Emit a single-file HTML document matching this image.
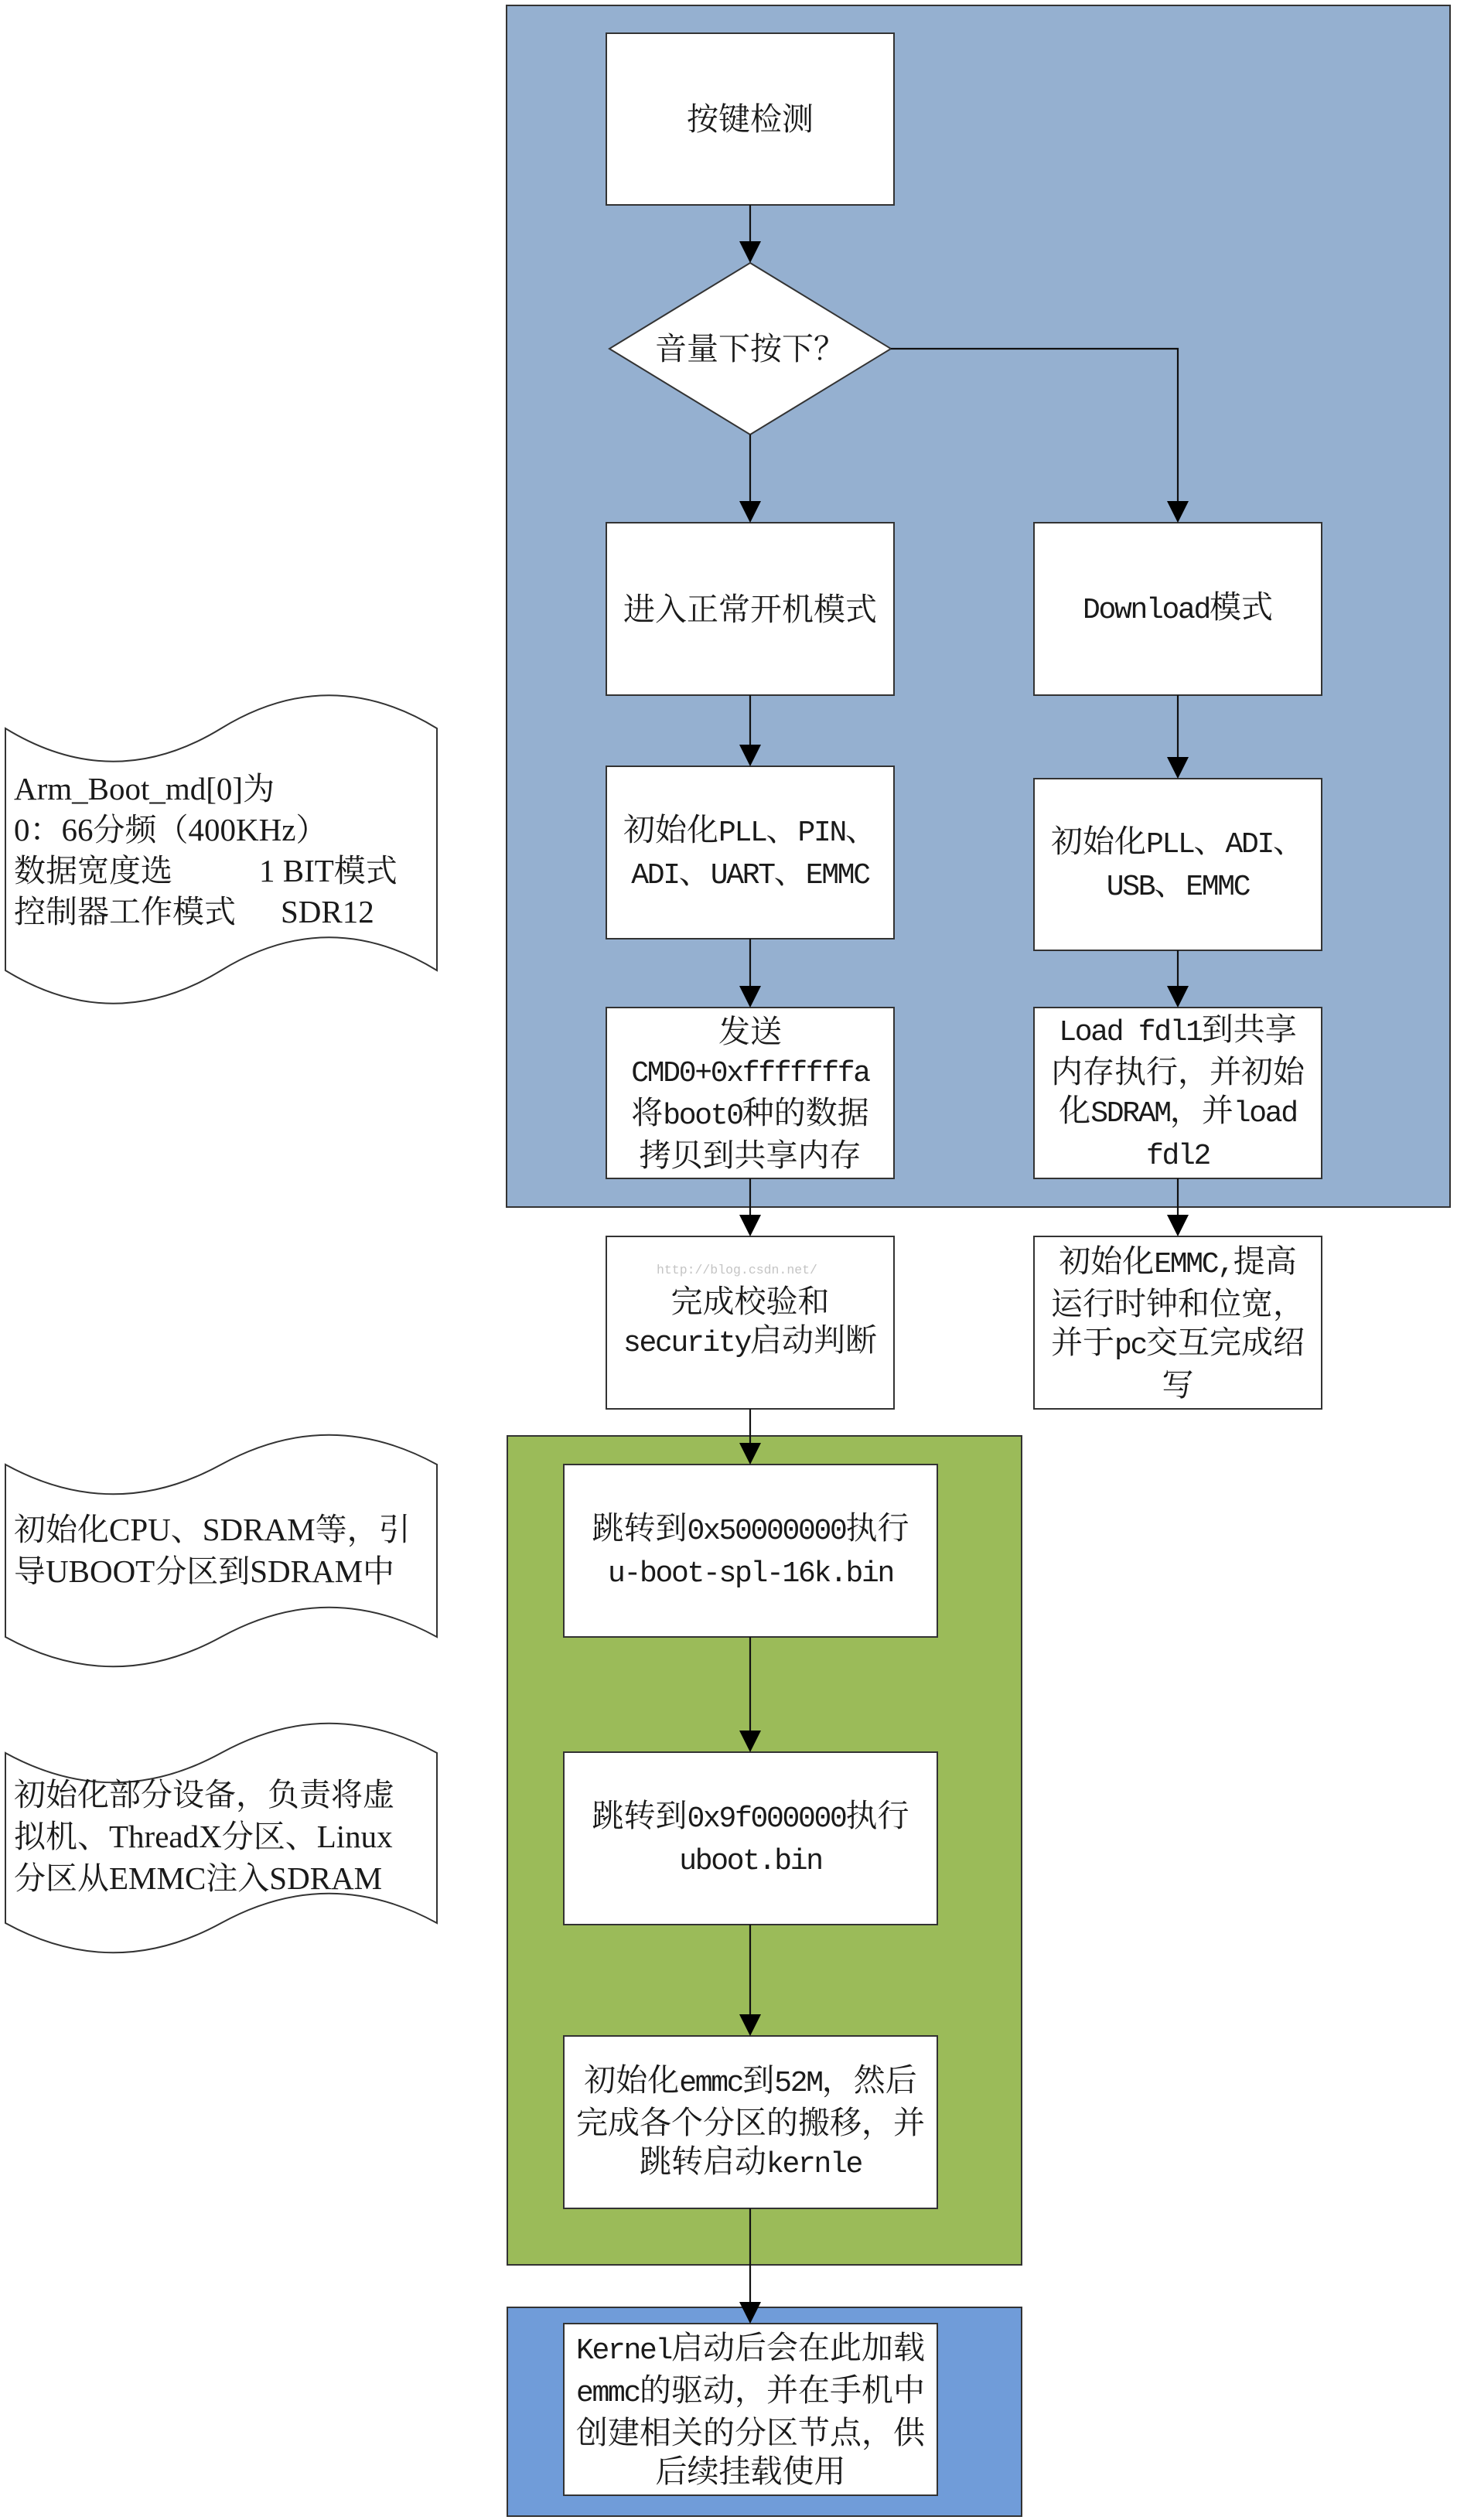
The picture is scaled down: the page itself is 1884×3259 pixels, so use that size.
<!DOCTYPE html>
<html>
<head>
<meta charset="utf-8">
<style>
  html, body { margin:0; padding:0; background:#fff; }
  #page { position:relative; width:1884px; height:3259px; overflow:hidden; background:#fff; }
  svg { position:absolute; left:0; top:0; }
  .t { position:absolute; display:flex; align-items:center; justify-content:center; text-align:center;
       font-family:"Liberation Serif","Noto Serif CJK SC",serif; font-size:41px; line-height:50px;
       color:#1a1a1a; white-space:nowrap; }
  .l { font-family:"Liberation Mono",monospace; font-size:38px; letter-spacing:-2.3px; }
  .n { position:absolute; font-family:"Liberation Serif","Noto Serif CJK SC",serif; font-size:41px;
       line-height:54px; height:54px; color:#1a1a1a; white-space:nowrap; }
  .wm { position:absolute; left:849px; top:1632px; font-family:"Liberation Mono",monospace; font-size:16.5px;
        color:#c4c4c4; white-space:nowrap; line-height:22px; }
</style>
</head>
<body>
<div id="page">
<svg width="1884" height="3259" viewBox="0 0 1884 3259" xmlns="http://www.w3.org/2000/svg">
  <rect x="655" y="7" width="1220" height="1554" fill="#95b0d0" stroke="#333" stroke-width="2"/>
  <rect x="656" y="1857" width="665" height="1072" fill="#9bbb59" stroke="#333" stroke-width="2"/>
  <rect x="656" y="2984" width="665" height="270" fill="#709cd9" stroke="#333" stroke-width="2"/>

  <g fill="#fff" stroke="#333" stroke-width="2">
    <path d="M7,942 C100,999 193,999 286,942 C379,885 472,885 565,942 L565,1255 C472,1198 379,1198 286,1255 C193,1312 100,1312 7,1255 Z"/>
    <path d="M7,1894 C100,1945 193,1945 286,1894 C379,1843 472,1843 565,1894 L565,2117 C472,2066 379,2066 286,2117 C193,2168 100,2168 7,2117 Z"/>
    <path d="M7,2267 C100,2318 193,2318 286,2267 C379,2216 472,2216 565,2267 L565,2487 C472,2436 379,2436 286,2487 C193,2538 100,2538 7,2487 Z"/>
  </g>

  <g fill="#fff" stroke="#333" stroke-width="2">
    <rect x="784" y="43" width="372" height="222"/>
    <polygon points="970,340 1152,451 970,562 788,451"/>
    <rect x="784" y="676" width="372" height="223"/>
    <rect x="1337" y="676" width="372" height="223"/>
    <rect x="784" y="991" width="372" height="223"/>
    <rect x="1337" y="1007" width="372" height="222"/>
    <rect x="784" y="1303" width="372" height="221"/>
    <rect x="1337" y="1303" width="372" height="221"/>
    <rect x="784" y="1599" width="372" height="223"/>
    <rect x="1337" y="1599" width="372" height="223"/>
    <rect x="729" y="1894" width="483" height="223"/>
    <rect x="729" y="2266" width="483" height="223"/>
    <rect x="729" y="2633" width="483" height="223"/>
    <rect x="729" y="3005" width="483" height="222"/>
  </g>

  <g stroke="#111" stroke-width="2.2" fill="none">
    <line x1="970" y1="265" x2="970" y2="314"/>
    <line x1="970" y1="562" x2="970" y2="650"/>
    <polyline points="1152,451 1523,451 1523,650"/>
    <line x1="970" y1="899" x2="970" y2="965"/>
    <line x1="1523" y1="899" x2="1523" y2="981"/>
    <line x1="970" y1="1214" x2="970" y2="1277"/>
    <line x1="1523" y1="1229" x2="1523" y2="1277"/>
    <line x1="970" y1="1524" x2="970" y2="1573"/>
    <line x1="1523" y1="1524" x2="1523" y2="1573"/>
    <line x1="970" y1="1822" x2="970" y2="1868"/>
    <line x1="970" y1="2117" x2="970" y2="2240"/>
    <line x1="970" y1="2489" x2="970" y2="2607"/>
    <line x1="970" y1="2856" x2="970" y2="2979"/>
  </g>
  <g fill="#000">
    <polygon points="956,312 984,312 970,340"/>
    <polygon points="956,648 984,648 970,676"/>
    <polygon points="1509,648 1537,648 1523,676"/>
    <polygon points="956,963 984,963 970,991"/>
    <polygon points="1509,979 1537,979 1523,1007"/>
    <polygon points="956,1275 984,1275 970,1303"/>
    <polygon points="1509,1275 1537,1275 1523,1303"/>
    <polygon points="956,1571 984,1571 970,1599"/>
    <polygon points="1509,1571 1537,1571 1523,1599"/>
    <polygon points="956,1866 984,1866 970,1894"/>
    <polygon points="956,2238 984,2238 970,2266"/>
    <polygon points="956,2605 984,2605 970,2633"/>
    <polygon points="956,2977 984,2977 970,3005"/>
  </g>
</svg>

<div class="t" style="left:784px;top:43px;width:372px;height:222px;">按键检测</div>
<div class="t" style="left:788px;top:340px;width:364px;height:222px;">音量下按下？</div>
<div class="t" style="left:784px;top:676px;width:372px;height:223px;">进入正常开机模式</div>
<div class="t" style="left:1337px;top:676px;width:372px;height:223px;"><span><span class="l">Download</span>模式</span></div>
<div class="t" style="left:784px;top:991px;width:372px;height:223px;"><div>初始化<span class="l">PLL</span>、<span class="l">PIN</span>、<br><span class="l">ADI</span>、<span class="l">UART</span>、<span class="l">EMMC</span></div></div>
<div class="t" style="left:1337px;top:1007px;width:372px;height:222px;"><div>初始化<span class="l">PLL</span>、<span class="l">ADI</span>、<br><span class="l">USB</span>、<span class="l">EMMC</span></div></div>
<div class="t" style="left:784px;top:1303px;width:372px;height:221px;"><div>发送<br><span class="l">CMD0+0xfffffffa</span><br>将<span class="l">boot0</span>种的数据<br>拷贝到共享内存</div></div>
<div class="t" style="left:1337px;top:1303px;width:372px;height:221px;"><div><span class="l">Load fdl1</span>到共享<br>内存执行，并初始<br>化<span class="l">SDRAM</span>，并<span class="l">load</span><br><span class="l">fdl2</span></div></div>
<div class="t" style="left:784px;top:1599px;width:372px;height:223px;"><div>完成校验和<br><span class="l">security</span>启动判断</div></div>
<div class="wm">http://blog.csdn.net/</div>
<div class="t" style="left:1337px;top:1599px;width:372px;height:223px;"><div>初始化<span class="l">EMMC,</span>提高<br>运行时钟和位宽，<br>并于<span class="l">pc</span>交互完成绍<br>写</div></div>
<div class="t" style="left:729px;top:1894px;width:483px;height:223px;"><div>跳转到<span class="l">0x50000000</span>执行<br><span class="l">u-boot-spl-16k.bin</span></div></div>
<div class="t" style="left:729px;top:2266px;width:483px;height:223px;"><div>跳转到<span class="l">0x9f000000</span>执行<br><span class="l">uboot.bin</span></div></div>
<div class="t" style="left:729px;top:2633px;width:483px;height:223px;"><div>初始化<span class="l">emmc</span>到<span class="l">52M</span>，然后<br>完成各个分区的搬移，并<br>跳转启动<span class="l">kernle</span></div></div>
<div class="t" style="left:729px;top:3005px;width:483px;height:222px;"><div><span class="l">Kernel</span>启动后会在此加载<br><span class="l">emmc</span>的驱动，并在手机中<br>创建相关的分区节点，供<br>后续挂载使用</div></div>

<div class="n" style="left:18px;top:993px;">Arm_Boot_md[0]为</div>
<div class="n" style="left:18px;top:1046px;">0：66分频（400KHz）</div>
<div class="n" style="left:18px;top:1099px;">数据宽度选</div>
<div class="n" style="left:335px;top:1099px;">1 BIT模式</div>
<div class="n" style="left:18px;top:1152px;">控制器工作模式</div>
<div class="n" style="left:363px;top:1152px;">SDR12</div>

<div class="n" style="left:18px;top:1951px;">初始化CPU、SDRAM等，引</div>
<div class="n" style="left:18px;top:2005px;">导UBOOT分区到SDRAM中</div>

<div class="n" style="left:18px;top:2294px;">初始化部分设备，负责将虚</div>
<div class="n" style="left:18px;top:2348px;">拟机、ThreadX分区、Linux</div>
<div class="n" style="left:18px;top:2402px;">分区从EMMC注入SDRAM</div>
</div>
</body>
</html>
